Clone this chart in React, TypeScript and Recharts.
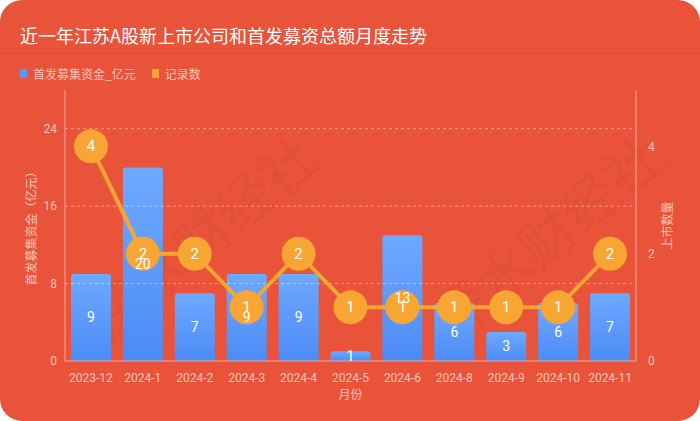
import { Bar, ComposedChart, LabelList, Line, ReferenceLine, XAxis, YAxis } from 'recharts'

const months = ['2023-12', '2024-1', '2024-2', '2024-3', '2024-4', '2024-5', '2024-6', '2024-8', '2024-9', '2024-10', '2024-11']
const funds = [9, 20, 7, 9, 9, 1, 13, 6, 3, 6, 7]
const counts = [4, 2, 2, 1, 2, 1, 1, 1, 1, 1, 2]
const leftTicks = [0, 8, 16, 24]
const rightTicks = [0, 2, 4]

const BG = '#E8533A'
const AXIS = '#F2A99A'
const TICK = '#F8C4B7'
const ORANGE = '#F7A533'
const CJK = '"Noto Sans CJK SC", "Noto Sans", sans-serif'
const NUM = 'Roboto, "Noto Sans", sans-serif'

const data = months.map((m, i) => ({ month: m, fund: funds[i], count: counts[i] }))

function CountDot(props: any) {
  const { cx, cy, payload, index } = props
  if (cx == null || cy == null) return null
  return (
    <g key={`dot-${index}`}>
      <circle cx={cx} cy={cy} r={17} fill={ORANGE} />
      <text x={cx} y={cy} dy={5} textAnchor="middle" fill="#fff" fontSize={15} fontFamily={NUM}>
        {payload.count}
      </text>
    </g>
  )
}

function FundLabel(props: any) {
  const { x, y, value, index } = props
  return (
    <text key={`fl-${index}`} x={x} y={y} dy={5} textAnchor="middle" fill="#fff" fontSize={14} fontFamily={NUM}>
      {value}
    </text>
  )
}

function Watermark({ cx, cy }: { cx: number; cy: number }) {
  return (
    <div
      style={{
        position: 'absolute',
        left: cx - 150,
        top: cy - 35,
        width: 300,
        height: 70,
        lineHeight: '70px',
        textAlign: 'center',
        fontSize: 56,
        fontFamily: CJK,
        color: 'rgba(120,20,10,0.045)',
        transform: 'rotate(-40deg)',
        whiteSpace: 'nowrap',
        pointerEvents: 'none',
      }}
    >
      深水财经社
    </div>
  )
}

export default function App() {
  const tick = { fill: TICK, fontSize: 12, fontFamily: NUM }
  return (
    <div style={{ position: 'relative', width: 700, height: 421, background: BG, borderRadius: 22, overflow: 'hidden' }}>
      <style>{`body{margin:0;background:#fff}`}</style>
      <div
        style={{
          position: 'absolute',
          left: 20,
          top: 22,
          color: '#fff',
          fontSize: 18,
          fontFamily: CJK,
          lineHeight: '26px',
        }}
      >
        近一年江苏A股新上市公司和首发募资总额月度走势
      </div>
      <div style={{ position: 'absolute', left: 0, right: 0, top: 53, height: 1, background: 'rgba(0,0,0,0.07)' }} />
      <div
        style={{
          position: 'absolute',
          left: 20,
          top: 65,
          display: 'flex',
          alignItems: 'center',
          fontSize: 12,
          fontFamily: CJK,
          color: TICK,
        }}
      >
        <span style={{ width: 7, height: 9, background: '#5B97F8', marginRight: 6, display: 'inline-block' }} />
        <span>首发募集资金_亿元</span>
        <span style={{ width: 7, height: 9, background: ORANGE, marginLeft: 16, marginRight: 6, display: 'inline-block' }} />
        <span>记录数</span>
      </div>
      <Watermark cx={200} cy={235} />
      <Watermark cx={545} cy={235} />
      <ComposedChart
        width={700}
        height={421}
        data={data}
        margin={{ top: 90, right: 20, bottom: 16, left: 20 }}
        style={{ position: 'absolute', left: 0, top: 0 }}
      >
        <defs>
          <linearGradient id="barGrad" x1="0" y1="0" x2="0" y2="1">
            <stop offset="0%" stopColor="#6EA9FF" />
            <stop offset="100%" stopColor="#4C8BF5" />
          </linearGradient>
        </defs>
        {leftTicks.slice(1).map((t) => (
          <ReferenceLine
            key={t}
            yAxisId="left"
            y={t}
            stroke="rgba(255,255,255,0.45)"
            strokeDasharray="3 3"
          />
        ))}
        <XAxis
          dataKey="month"
          height={44}
          stroke={AXIS}
          tickLine={false}
          tick={tick}
          interval={0}
          tickMargin={6}
          label={{ value: '月份', position: 'insideBottom', offset: 6, fill: TICK, fontSize: 12, fontFamily: CJK }}
        />
        <YAxis
          yAxisId="left"
          width={45}
          domain={[0, 28]}
          ticks={leftTicks}
          stroke={AXIS}
          tickLine={false}
          tick={tick}
          tickMargin={2}
          label={{
            value: '首发募集资金（亿元）',
            angle: -90,
            position: 'insideLeft',
            offset: 12,
            fill: TICK,
            fontSize: 12,
            fontFamily: CJK,
            style: { textAnchor: 'middle' },
          }}
        />
        <YAxis
          yAxisId="right"
          orientation="right"
          width={44}
          domain={[0, 5.05]}
          ticks={rightTicks}
          stroke={AXIS}
          tickLine={false}
          tick={tick}
          tickMargin={6}
          label={{
            value: '上市数量',
            angle: -90,
            position: 'insideRight',
            offset: 12,
            fill: TICK,
            fontSize: 12,
            fontFamily: CJK,
            style: { textAnchor: 'middle' },
          }}
        />
        <Bar
          yAxisId="left"
          dataKey="fund"
          barSize={40}
          fill="url(#barGrad)"
          radius={[3, 3, 0, 0]}
          isAnimationActive={false}
        />
        <Line
          yAxisId="right"
          dataKey="count"
          stroke={ORANGE}
          strokeWidth={4}
          dot={CountDot}
          activeDot={false}
          isAnimationActive={false}
        />
        <Line
          yAxisId="left"
          dataKey={(d: any) => d.fund / 2}
          stroke="none"
          dot={false}
          activeDot={false}
          legendType="none"
          isAnimationActive={false}
        >
          <LabelList dataKey="fund" content={FundLabel} />
        </Line>
      </ComposedChart>
    </div>
  )
}
